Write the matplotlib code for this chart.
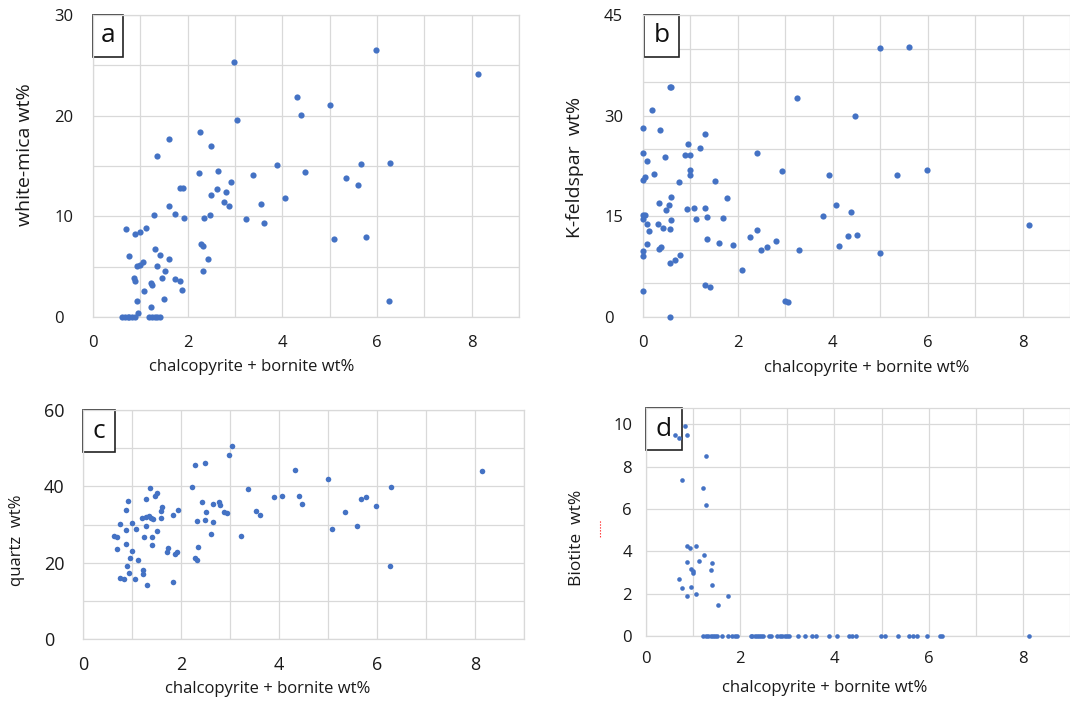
import matplotlib
matplotlib.use('Agg')
import matplotlib.pyplot as plt
from matplotlib.patches import Rectangle
from matplotlib.lines import Line2D

plt.rcParams['font.family'] = ['Open Sans', 'DejaVu Sans']

W, H = 1070, 702

# panel a: white-mica vs chalcopyrite + bornite
a_x = [5.97, 2.98, 8.14, 4.32, 5.00, 4.40, 3.05, 2.27, 1.61, 2.49,
       1.35, 3.89, 5.67, 6.27, 2.23, 2.65, 4.47, 3.37, 5.35, 5.59,
       2.92, 1.83, 1.90, 2.61, 2.80, 2.50, 4.06, 2.77, 3.54, 2.88,
       1.61, 1.28, 1.73, 2.48, 1.92, 2.35, 3.24, 3.62, 0.69, 1.13,
       0.88, 0.99, 5.09, 5.76, 2.29, 2.32, 1.30, 0.76, 1.42, 1.61,
       2.42, 0.93, 0.99, 1.06, 1.35, 1.52, 2.32, 0.87, 0.88, 1.46,
       1.73, 1.84, 1.23, 1.24, 1.07, 1.87, 0.93, 1.50, 1.23, 0.95,
       6.25, 0.62, 0.67, 0.73, 0.77, 0.83, 0.88, 1.18, 1.25, 1.30, 1.35, 1.41]
a_y = [26.5, 25.3, 24.1, 21.9, 21.1, 20.1, 19.6, 18.4, 17.7, 17.0,
       16.0, 15.1, 15.2, 15.3, 14.3, 14.5, 14.4, 14.1, 13.8, 13.1,
       13.4, 12.8, 12.8, 12.7, 12.4, 12.1, 11.8, 11.4, 11.2, 11.0,
       11.0, 10.1, 10.2, 10.1, 9.8, 9.8, 9.7, 9.3, 8.7, 8.8,
       8.2, 8.4, 7.7, 7.9, 7.3, 7.1, 6.8, 6.1, 6.2, 5.8,
       5.8, 5.1, 5.2, 5.5, 5.1, 4.6, 4.6, 3.9, 3.6, 3.9,
       3.8, 3.6, 3.4, 3.2, 2.6, 2.7, 1.6, 1.8, 1.0, 0.4,
       1.6, 0, 0, 0, 0, 0, 0, 0, 0, 0, 0, 0]

# panel b: K-feldspar
b_x = [5.00, 5.60, 0.57, 0.60, 3.25, 0.20, 4.47, 0.00, 0.36, 1.31,
       0.94, 1.21, 0.00, 2.41, 0.88, 0.99, 0.46, 0.09, 2.93, 1.00,
       1.00, 3.91, 5.35, 5.98, 0.24, 0.05, 0.00, 1.52, 0.75, 0.59,
       1.78, 4.06, 0.33, 0.54, 0.48, 0.92, 1.07, 1.30, 4.39, 0.00,
       0.05, 0.00, 3.79, 1.34, 1.69, 1.12, 0.58, 0.09, 0.31, 8.14,
       2.41, 0.43, 0.57, 0.13, 4.33, 4.50, 2.26, 1.34, 2.81, 1.61,
       0.09, 1.90, 4.14, 2.62, 0.38, 0.33, 2.48, 3.29, 0.00, 0.01,
       5.00, 0.79, 0.68, 0.57, 2.08, 0.00, 1.31, 1.42, 2.99, 3.05, 0.57]
b_y = [40.1, 40.2, 34.2, 34.2, 32.6, 30.8, 30.0, 28.2, 27.9, 27.2,
       25.8, 25.2, 24.5, 24.5, 24.2, 24.1, 23.9, 23.2, 21.7, 21.9,
       21.2, 21.2, 21.2, 21.9, 21.3, 20.9, 20.4, 20.3, 20.1, 17.9,
       17.7, 16.7, 17.0, 16.7, 16.0, 16.1, 16.2, 16.2, 15.6, 15.2,
       15.2, 14.6, 15.0, 14.9, 14.8, 14.6, 14.5, 13.8, 13.9, 13.7,
       13.0, 13.2, 13.1, 12.8, 12.1, 12.2, 11.9, 11.6, 11.3, 11.0,
       10.9, 10.7, 10.6, 10.4, 10.5, 10.2, 10.0, 10.0, 9.9, 9.1,
       9.6, 9.3, 8.5, 8.1, 7.0, 3.8, 4.7, 4.5, 2.4, 2.2, 0.0]

# panel c: quartz
c_x = [3.04, 2.97, 2.49, 2.28, 4.33, 8.14, 5.01, 2.22, 1.36, 6.28,
       3.37, 1.50, 1.46, 3.89, 4.06, 4.40, 5.68, 5.77, 1.29, 0.92,
       2.42, 2.65, 2.78, 2.80, 4.47, 5.98, 1.61, 1.60, 0.87, 1.93,
       2.51, 2.87, 2.93, 3.54, 3.61, 5.34, 1.83, 1.20, 1.29, 1.34,
       1.38, 1.43, 1.60, 2.48, 2.33, 2.65, 0.76, 0.99, 1.28, 5.60,
       1.08, 0.87, 1.51, 5.09, 2.62, 3.23, 0.63, 0.70, 1.24, 1.41,
       0.87, 1.41, 2.35, 0.69, 1.73, 1.72, 0.99, 1.91, 1.87, 0.95,
       2.29, 2.33, 1.12, 0.89, 6.26, 1.23, 1.23, 0.94, 0.76, 0.83,
       1.06, 1.83, 1.31]
c_y = [50.6, 48.3, 46.2, 45.6, 44.4, 44.1, 42.0, 39.8, 39.6, 39.8,
       39.2, 38.2, 37.4, 37.2, 37.4, 37.4, 36.7, 37.1, 36.7, 36.1,
       35.8, 35.5, 36.0, 35.2, 35.3, 34.9, 34.7, 33.5, 33.9, 33.8,
       33.2, 33.2, 32.9, 33.5, 32.6, 33.2, 32.5, 31.8, 32.0, 32.1,
       31.7, 31.5, 31.8, 31.2, 30.9, 30.6, 30.2, 30.3, 29.6, 29.7,
       28.8, 28.5, 28.2, 28.7, 27.5, 26.9, 26.9, 26.8, 26.7, 26.8,
       25.0, 24.5, 24.0, 23.6, 23.8, 22.8, 23.1, 22.9, 22.4, 21.3,
       21.3, 20.6, 20.8, 19.2, 19.1, 18.2, 17.0, 17.2, 15.9, 15.7,
       15.7, 15.0, 14.1]

# panel d: biotite
d_x = [0.82, 0.87, 0.69, 0.62, 1.28, 0.77, 1.20, 1.28, 0.87, 0.93,
       1.07, 1.23, 0.87, 1.13, 1.41, 0.95, 0.99, 0.99, 1.37, 0.69,
       1.41, 0.77, 0.95, 0.88, 1.06, 1.73, 1.53,
       1.22, 1.27, 1.32, 1.37, 1.42, 1.46, 1.50, 1.61, 1.73, 1.83,
       1.88, 1.93, 2.22, 2.26, 2.31, 2.36, 2.40, 2.44, 2.49, 2.61,
       2.65, 2.78, 2.84, 2.89, 2.94, 2.99, 3.04, 3.23, 3.37, 3.53,
       3.61, 3.89, 4.06, 4.31, 4.38, 4.46, 4.99, 5.08, 5.34, 5.58,
       5.67, 5.75, 5.97, 6.24, 6.28, 8.13]
d_y = [9.94, 9.50, 9.34, 9.50, 8.52, 7.37, 6.99, 6.17, 4.27, 4.14,
       4.25, 3.84, 3.51, 3.56, 3.45, 3.17, 3.06, 2.98, 3.10, 2.71,
       2.39, 2.28, 2.33, 1.91, 1.98, 1.91, 1.45] + [0] * 46

xlabel = 'chalcopyrite + bornite wt%'
blue = '#4472c4'
grid_c = '#d9d9d9'

fig = plt.figure(figsize=(W / 100, H / 100), dpi=100)


def make_ax(l, t, r, b):
    return fig.add_axes([l / W, 1 - b / H, (r - l) / W, (b - t) / H])


def to_ax(box, px, py):
    l, t, r, b = box
    return (px - l) / (r - l), (b - py) / (b - t)


panels = [
    # box(px), x, y, ymax, ygrid, ylab step, ylabel, ylabel font, ylabel pos, xlabel pos, letter box, tick font, pad, yalign, size
    dict(box=(93, 15, 519, 317), x=a_x, y=a_y, ymax=30, ygrid=5, ystep=10,
         ylab='white-mica wt%', ylfs=14, ylpos=(25, 155), xlpos=(252, 367),
         letter='a', lbox=(93, 15, 123, 57), tfs=12, xpad=13, ypad=28, yha='left', s=20),
    dict(box=(643, 15, 1070, 317), x=b_x, y=b_y, ymax=45, ygrid=5, ystep=15,
         ylab='K-feldspar  wt%', ylfs=14, ylpos=(575, 167), xlpos=(867, 368),
         letter='b', lbox=(644, 15, 679, 57), tfs=12, xpad=13, ypad=28, yha='left', s=20),
    dict(box=(83, 410, 524, 639), x=c_x, y=c_y, ymax=60, ygrid=10, ystep=20,
         ylab='quartz  wt%', ylfs=12, ylpos=(17, 540), xlpos=(268, 689),
         letter='c', lbox=(83, 410, 115, 452), tfs=13, xpad=12, ypad=28, yha='left', s=16),
    dict(box=(646, 408, 1070, 636), x=d_x, y=d_y, ymax=10.77, ygrid=2, ystep=2,
         ylab='Biotite  wt%', ylfs=12.5, ylpos=(577, 538), xlpos=(825, 688),
         letter='d', lbox=(646, 408, 682, 450), tfs=12, xpad=11, ypad=10, yha='right', s=11),
]

for p in panels:
    ax = make_ax(*p['box'])
    ax.set_xlim(0, 9)
    ax.set_ylim(0, p['ymax'])
    ax.set_xticks(range(0, 10), minor=True)
    ax.set_xticks(range(0, 10, 2))
    ygrid = [v * p['ygrid'] for v in range(int(p['ymax'] // p['ygrid']) + 1)]
    ax.set_yticks(ygrid, minor=True)
    ylabs = list(range(0, int(p['ymax']) + 1, p['ystep']))
    ax.set_yticks(ylabs)
    ax.grid(True, which='both', color=grid_c, lw=0.9)
    ax.set_axisbelow(True)
    for side, sp in ax.spines.items():
        sp.set_color(grid_c)
        sp.set_linewidth(0.9)
    if p['box'][2] >= W:
        ax.spines['right'].set_visible(False)
    ax.tick_params(which='both', length=0, labelsize=p['tfs'], colors='#1a1a1a')
    ax.tick_params(axis='x', pad=p['xpad'])
    ax.tick_params(axis='y', pad=p['ypad'])
    for lbl in ax.get_yticklabels():
        lbl.set_ha(p['yha'])

    # letter box
    lx0, ly0, lx1, ly1 = p['lbox']
    bx0, by1 = to_ax(p['box'], lx0, ly1)
    bx1, by0 = to_ax(p['box'], lx1, ly0)
    ax.add_patch(Rectangle((bx0, by1), bx1 - bx0, by0 - by1, transform=ax.transAxes,
                           facecolor='white', edgecolor='#222222', lw=1.2,
                           zorder=2.5, clip_on=False))
    ax.text((bx0 + bx1) / 2, (by0 + by1) / 2, p['letter'], transform=ax.transAxes,
            ha='center', va='center', fontsize=19, zorder=2.6, color='#111111')

    ax.scatter(p['x'], p['y'], s=p['s'], color=blue, linewidths=0,
               zorder=3, clip_on=False)

    ax.set_xlabel(xlabel, fontsize=12, va='center', color='#1a1a1a')
    ax.xaxis.set_label_coords(*to_ax(p['box'], *p['xlpos']))
    ax.set_ylabel(p['ylab'], fontsize=p['ylfs'], va='center', color='#1a1a1a')
    ax.yaxis.set_label_coords(*to_ax(p['box'], *p['ylpos']))

# small red dotted mark left of the biotite label
fig.add_artist(Line2D([600 / W, 600 / W], [1 - 521 / H, 1 - 538 / H],
                      color='red', lw=0.8, ls=':'))

fig.savefig('out.png', dpi=100)
